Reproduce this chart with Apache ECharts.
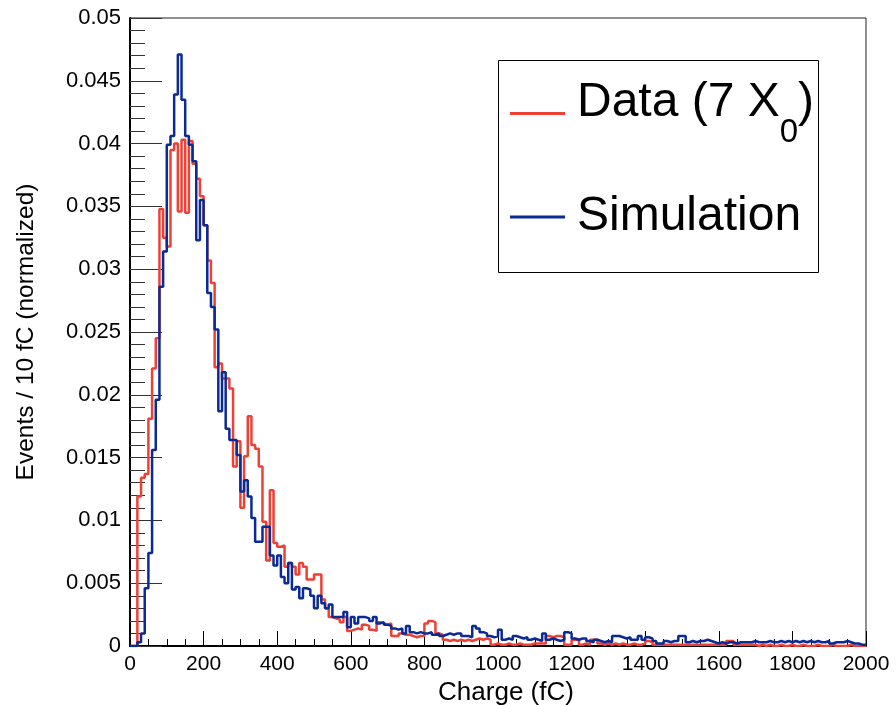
<!DOCTYPE html>
<html>
<head>
<meta charset="utf-8">
<script src="https://cdn.jsdelivr.net/npm/echarts@6/dist/echarts.min.js"></script>
<style>
  html, body { margin: 0; padding: 0; background: #fff; }
  #chart { width: 896px; height: 705px; }
</style>
</head>
<body>
<div id="chart"></div>
<script>
// histogram: 200 bins of 10 fC, values are the normalized bin contents
const binWidth = 10;
const binCount = 200;

const dataValues = [
  0, 0, 0.0119, 0.0134, 0.0137, 0.0181, 0.0221, 0.0245, 0.0348, 0.0325,
  0.0318, 0.0395, 0.0400, 0.0346, 0.0403, 0.0345, 0.0402, 0.0384, 0.0372, 0.0358,
  0.0335, 0.0307, 0.0289, 0.0222, 0.0225, 0.0213, 0.0213, 0.0205, 0.0143, 0.0163,
  0.0110, 0.0151, 0.0183, 0.0160, 0.0157, 0.0143, 0.0099, 0.0068, 0.0124, 0.0082,
  0.0079, 0.0080, 0.0063, 0.0066, 0.0063, 0.0057, 0.0066, 0.0063, 0.0053, 0.0053,
  0.0057, 0.0057, 0.0037, 0.0030, 0.0023, 0.0022, 0.0021, 0.0019, 0.0023, 0.0012,
  0.0013, 0.0014, 0.0013, 0.0017, 0.0016, 0.0013, 0.0012, 0.0019, 0.0018, 0.0017,
  0.0018, 0.0008, 0.0008, 0.0010, 0.0009, 0.0009, 0.0008, 0.0007, 0.0008, 0.0008,
  0.0018, 0.0020, 0.0019, 0.0010, 0.0009, 0.0005, 0.0004, 0.0005, 0.0004, 0.0005,
  0.0004, 0.0005, 0.0004, 0.0005, 0.0006, 0.0005, 0.0006, 0.0005, 0.0001, 0.0002,
  0.0001, 0.0001, 0.0002, 0.0001, 0.0001, 0.0002, 0.0001, 0.0001, 0.0001, 0.0002,
  0.0002, 0.0002, 0.0002, 0.0008, 0.0007, 0.0008, 0.0008, 0.0007, 0.0001, 0.0001,
  0.0005, 0.0005, 0.0001, 0.0002, 0.0001, 0.0005, 0.0005, 0.0002, 0.0001, 0.0002,
  0.0001, 0.0002, 0.0001, 0.0002, 0.0001, 0.0001, 0.0002, 0.0001, 0.0001, 0.0002,
  0.0004, 0.0003, 0.0001, 0.0001, 0.0001, 0.0001, 0.0001, 0.0001, 0.0001, 0.0001,
  0.0001, 0.0001, 0.0001, 0.0001, 0.0001, 0.0001, 0.0001, 0.0001, 0.0001, 0.0001,
  0.0001, 0.0001, 0.0004, 0.0004, 0.0001, 0.0001, 0.0001, 0.0001, 0.0001, 0.0001,
  0, 0.0001, 0, 0.0001, 0, 0, 0.0001, 0, 0, 0.0001,
  0, 0, 0.0001, 0, 0, 0, 0.0001, 0, 0, 0,
  0.0001, 0, 0, 0, 0, 0.0001, 0, 0, 0, 0
];

const simValues = [
  0, 0, 0.0003, 0.0010, 0.0046, 0.0074, 0.0156, 0.0196, 0.0286, 0.0314,
  0.0399, 0.0406, 0.0439, 0.0471, 0.0435, 0.0406, 0.0399, 0.0386, 0.0323, 0.0355,
  0.0335, 0.0281, 0.0270, 0.0252, 0.0187, 0.0218, 0.0173, 0.0164, 0.0164, 0.0152,
  0.0123, 0.0132, 0.0119, 0.0102, 0.0083, 0.0083, 0.0095, 0.0095, 0.0072, 0.0064,
  0.0072, 0.0055, 0.0050, 0.0066, 0.0045, 0.0047, 0.0038, 0.0046, 0.0045, 0.0040,
  0.0030, 0.0040, 0.0034, 0.0030, 0.0033, 0.0023, 0.0023, 0.0023, 0.0027, 0.0015,
  0.0023, 0.0018, 0.0023, 0.0023, 0.0022, 0.0020, 0.0023, 0.0018, 0.0019, 0.0017,
  0.0016, 0.0014, 0.0013, 0.0014, 0.0010, 0.0016, 0.0011, 0.0010, 0.0011, 0.0010,
  0.0010, 0.0011, 0.0009, 0.0010, 0.0008, 0.0009, 0.0010, 0.0009, 0.0010, 0.0010,
  0.0008, 0.0008, 0.0007, 0.0016, 0.0014, 0.0011, 0.0010, 0.0008, 0.0007, 0.0008,
  0.0013, 0.0005, 0.0006, 0.0005, 0.0008, 0.0007, 0.0006, 0.0007, 0.0005, 0.0006,
  0.0005, 0.0004, 0.0010, 0.0005, 0.0006, 0.0005, 0.0004, 0.0005, 0.0011, 0.0010,
  0.0006, 0.0005, 0.0006, 0.0006, 0.0004, 0.0003, 0.0005, 0.0004, 0.0003, 0.0004,
  0.0003, 0.0008, 0.0008, 0.0007, 0.0006, 0.0007, 0.0005, 0.0005, 0.0008, 0.0005,
  0.0007, 0.0006, 0.0004, 0.0002, 0.0002, 0.0004, 0.0003, 0.0004, 0.0004, 0.0008,
  0.0008, 0.0003, 0.0004, 0.0003, 0.0004, 0.0004, 0.0005, 0.0004, 0.0003, 0.0002,
  0.0003, 0.0002, 0.0003, 0.0003, 0.0002, 0.0003, 0.0003, 0.0003, 0.0003, 0.0004,
  0.0003, 0.0003, 0.0003, 0.0004, 0.0003, 0.0003, 0.0004, 0.0003, 0.0004, 0.0003,
  0.0004, 0.0003, 0.0004, 0.0003, 0.0004, 0.0003, 0.0004, 0.0003, 0.0003, 0.0004,
  0.0002, 0.0003, 0.0003, 0.0003, 0.0004, 0.0003, 0.0002, 0.0002, 0.0001, 0.0001
];

const xTicks = { min: 0, max: 2000, interval: 200 };
const yTicks = { min: 0, max: 0.05, interval: 0.005 };

const FONT = 'Liberation Sans';
const RED = '#ee4136';
const BLUE = '#0a2a96';

// left edge of every bin, plus the closing edge so the last step is drawn
function stepPoints(values) {
  const pts = values.map((v, i) => [i * binWidth, v]);
  pts.push([binCount * binWidth, values[values.length - 1]]);
  return pts;
}

const chart = echarts.init(document.getElementById('chart'), null, { renderer: 'canvas' });

// legend text: big sans, with a real subscript for X0
const legendRich = {
  a: { fontSize: 48, lineHeight: 48, padding: [0, 0, 21, 7], fontFamily: FONT, color: '#000' },
  t: { fontSize: 48, lineHeight: 48, padding: [0, 0, 21, 0], fontFamily: FONT, color: '#000' },
  s: { fontSize: 33, lineHeight: 33, padding: [38, 0, 0, 0], fontFamily: FONT, color: '#000' },
  u: { fontSize: 48, lineHeight: 48, padding: [0, 0, 0, 7], fontFamily: FONT, color: '#000' }
};

chart.setOption({
  animation: false,
  backgroundColor: '#fff',
  textStyle: { fontFamily: FONT },
  grid: {
    left: 130, right: 30, top: 18, bottom: 59,
    outerBoundsMode: 'none',
    containLabel: false,
    show: true, borderColor: '#222', borderWidth: 1
  },
  legend: [
    {
      data: ['Data'],
      left: 505, top: 73,
      icon: 'rect', itemWidth: 55, itemHeight: 3,
      formatter: () => '{a|Data (7 X}{s|0}{t|)}',
      textStyle: { rich: legendRich }
    },
    {
      data: ['Simulation'],
      left: 505, top: 188,
      icon: 'rect', itemWidth: 55, itemHeight: 3,
      formatter: () => '{u|Simulation}',
      textStyle: { rich: legendRich }
    }
  ],
  graphic: [{
    type: 'rect',
    shape: { x: 498.5, y: 60.5, width: 320, height: 212 },
    style: { fill: 'none', stroke: '#000', lineWidth: 1 },
    z: 10
  }],
  xAxis: {
    type: 'value',
    min: xTicks.min, max: xTicks.max, interval: xTicks.interval,
    name: 'Charge (fC)',
    nameLocation: 'middle',
    nameGap: 29,
    nameTextStyle: { fontSize: 26, color: '#000', fontFamily: FONT, padding: [0, 0, 0, 16] },
    axisLine: { show: true, lineStyle: { color: '#000', width: 2 } },
    axisTick: { show: true, inside: true, length: 15, lineStyle: { color: '#000', width: 1 } },
    minorTick: { show: true, splitNumber: 4, length: 7, lineStyle: { color: '#000', width: 1 } },
    axisLabel: {
      fontSize: 21, color: '#000', margin: 8, fontFamily: FONT,
      formatter: (v) => String(v)
    },
    splitLine: { show: false }
  },
  yAxis: {
    type: 'value',
    min: yTicks.min, max: yTicks.max, interval: yTicks.interval,
    name: 'Events / 10 fC (normalized)',
    nameLocation: 'middle',
    nameGap: 91,
    nameTextStyle: { fontSize: 24.5, color: '#000', fontFamily: FONT },
    axisLine: { show: true, lineStyle: { color: '#000', width: 2 } },
    axisTick: { show: true, inside: true, length: 32, lineStyle: { color: '#333', width: 1 } },
    minorTick: { show: true, splitNumber: 5, length: 15, lineStyle: { color: '#333', width: 1 } },
    axisLabel: {
      fontSize: 22, color: '#000', margin: 9, fontFamily: FONT,
      formatter: (v) => (v === 0 ? '0' : String(+v.toFixed(3)))
    },
    splitLine: { show: false }
  },
  series: [
    {
      name: 'Data',
      type: 'line',
      step: 'end',
      showSymbol: false,
      symbol: 'none',
      data: stepPoints(dataValues),
      lineStyle: { color: RED, width: 2.5 },
      itemStyle: { color: RED },
      z: 2
    },
    {
      name: 'Simulation',
      type: 'line',
      step: 'end',
      showSymbol: false,
      symbol: 'none',
      data: stepPoints(simValues),
      lineStyle: { color: BLUE, width: 2.5 },
      itemStyle: { color: BLUE },
      z: 3
    }
  ]
});
</script>
</body>
</html>
